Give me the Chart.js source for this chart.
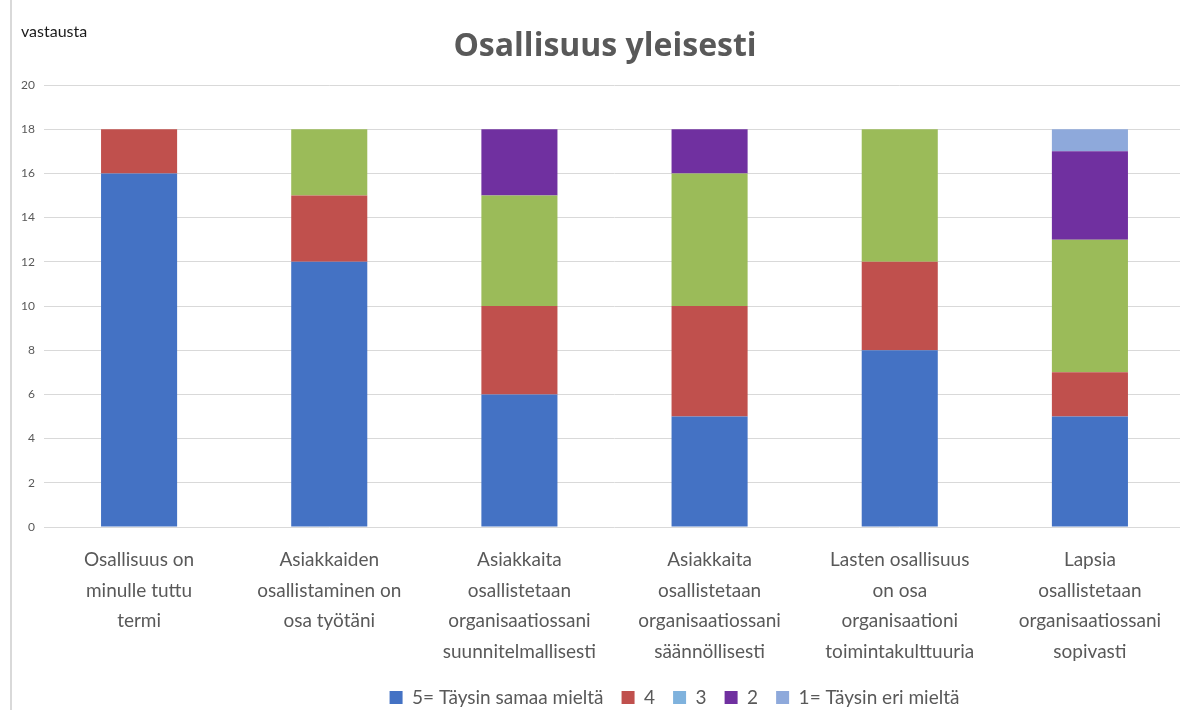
<!DOCTYPE html>
<html>
<head>
<meta charset="utf-8">
<script src="https://cdn.jsdelivr.net/npm/chart.js@4.4.1/dist/chart.umd.min.js"></script>
<style>
  html, body { margin: 0; padding: 0; background: #fff; overflow: hidden; }
  #wrap { width: 1200px; height: 710px; }
</style>
</head>
<body>
<div id="wrap"><canvas id="myChart" width="1200" height="710"></canvas></div>
<script>
// categories (multi-line labels)
const categories = [
  ['Osallisuus on', 'minulle tuttu', 'termi'],
  ['Asiakkaiden', 'osallistaminen on', 'osa työtäni'],
  ['Asiakkaita', 'osallistetaan', 'organisaatiossani', 'suunnitelmallisesti'],
  ['Asiakkaita', 'osallistetaan', 'organisaatiossani', 'säännöllisesti'],
  ['Lasten osallisuus', 'on osa', 'organisaationi', 'toimintakulttuuria'],
  ['Lapsia', 'osallistetaan', 'organisaatiossani', 'sopivasti']
];

const seriesNames = ['5= Täysin samaa mieltä', '4', '3', '2', '1= Täysin eri mieltä'];

const vals5 = [16, 12, 6, 5, 8, 5];
const vals4 = [2, 3, 4, 5, 4, 2];
const vals3 = [0, 3, 5, 6, 6, 6];
const vals2 = [0, 0, 3, 2, 0, 4];
const vals1 = [0, 0, 0, 0, 0, 1];

const yTicks = [0, 2, 4, 6, 8, 10, 12, 14, 16, 18, 20];

const barColors = ['#4472C4', '#C0504D', '#9BBB59', '#7030A0', '#8EA9DB'];
const legendColors = ['#4472C4', '#C0504D', '#7FB2DD', '#7030A0', '#8EA9DB'];

const allVals = [vals5, vals4, vals3, vals2, vals1];

const ctx = document.getElementById('myChart').getContext('2d');

const extras = {
  id: 'extras',
  afterLayout(chart) {
    // legend sits right of centre and a bit lower in the original
    chart.legend.left += 82;
    chart.legend.right += 82;
    chart.legend.top += 7;
    chart.legend.bottom += 7;
  },
  afterDraw(chart) {
    const c = chart.ctx;
    c.save();
    c.fillStyle = '#D9D9D9';
    c.fillRect(10, 0, 2, 710);
    c.fillStyle = '#595959';
    c.font = 'bold 32px "Open Sans"';
    c.textAlign = 'center';
    c.textBaseline = 'alphabetic';
    c.fillText('Osallisuus yleisesti', 605, 56);
    c.fillStyle = '#1a1a1a';
    c.font = '16px Lato';
    c.textAlign = 'left';
    c.fillText('vastausta', 21, 37);
    c.restore();
  }
};

const myChart = new Chart(ctx, {
  type: 'bar',
  data: {
    labels: categories,
    datasets: allVals.map((v, i) => ({
      label: seriesNames[i],
      data: v,
      backgroundColor: barColors[i],
      borderWidth: 0,
      categoryPercentage: 1,
      barPercentage: 0.4
    }))
  },
  options: {
    responsive: false,
    animation: false,
    devicePixelRatio: 1,
    layout: { padding: { top: 85, right: 15, bottom: 0, left: 0 } },
    plugins: {
      title: { display: false },
      tooltip: { enabled: false },
      legend: {
        position: 'bottom',
        labels: {
          boxWidth: 13,
          boxHeight: 13,
          padding: 18,
          color: '#595959',
          font: { family: 'Lato', size: 19 },
          generateLabels(chart) {
            return chart.data.datasets.map((ds, i) => ({
              text: ds.label,
              fillStyle: legendColors[i],
              strokeStyle: legendColors[i],
              lineWidth: 0,
              fontColor: '#595959',
              datasetIndex: i
            }));
          }
        }
      }
    },
    scales: {
      x: {
        stacked: true,
        grid: { display: false },
        border: { display: false },
        afterFit(s) { s.height = 136; },
        ticks: {
          color: '#595959',
          padding: 10,
          maxRotation: 0,
          autoSkip: false,
          font: { family: 'Lato', size: 19, lineHeight: 1.6 }
        }
      },
      y: {
        stacked: true,
        min: 0,
        max: 20,
        afterFit(s) { s.width = 44; },
        afterBuildTicks(s) { s.ticks = yTicks.map(v => ({ value: v })); },
        border: { display: false },
        grid: { color: '#D9D9D9', lineWidth: 1, drawTicks: false },
        ticks: {
          color: '#595959',
          padding: 9,
          font: { family: 'Lato', size: 12 }
        }
      }
    }
  },
  plugins: [extras]
});
</script>
</body>
</html>
